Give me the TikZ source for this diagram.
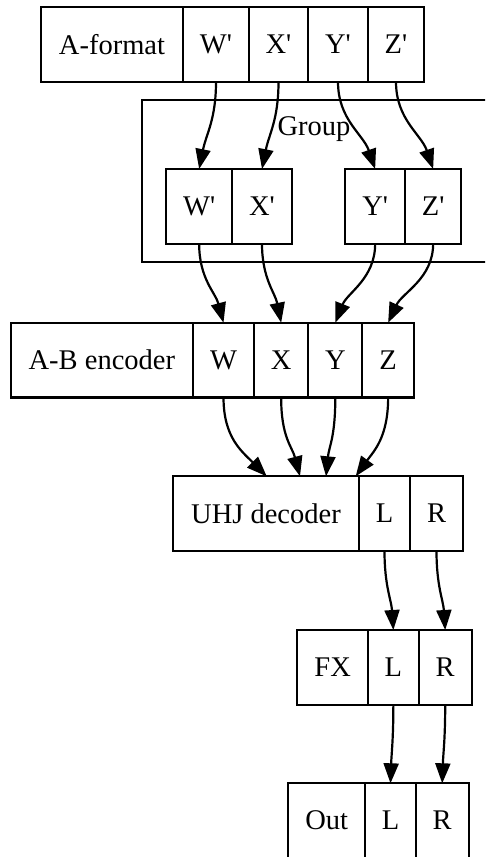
\documentclass[tikz,border=0pt]{standalone}
\usepackage{fontspec}
\setmainfont{Liberation Serif}
\usepackage{tikz}
\usetikzlibrary{arrows.meta}
\usetikzlibrary{positioning}

\tikzset{
  cell/.style={rectangle, draw=black, line width=2.2pt, minimum height=74.7pt, inner sep=0pt, outer sep=0pt, anchor=north west},
  link/.style={-{Triangle[length=20pt,width=15pt]}, line width=2.2pt}
}
\newcommand{\tq}{\textquotesingle}

\begin{document}
\begin{tikzpicture}[x=1pt, y=-1pt, font=\fontsize{28.5}{30}\selectfont]

\useasboundingbox (0,0) rectangle (485,857);
\clip (0,0) rectangle (485,857);

% A-format record
\node at (41,7) [cell, minimum width=142pt] (afmt) {A-format};
\node at (183,7) [cell, minimum width=66pt] (afW) {W\tq};
\node at (249,7) [cell, minimum width=59pt] (afX) {X\tq};
\node at (308,7) [cell, minimum width=60pt] (afY) {Y\tq};
\node at (368,7) [cell, minimum width=56pt] (afZ) {Z\tq};

% group
\node at (142,100) [cell, minimum width=345pt, minimum height=162.3pt] (grp) {};
\node at (314,116) [anchor=north, inner sep=0pt] (grplabel) {Group};
\node at (166,169) [cell, minimum width=66.3pt] (gW) {W\tq};
\node at (232.3,169) [cell, minimum width=59.4pt] (gX) {X\tq};
\node at (345.3,169) [cell, minimum width=59.7pt] (gY) {Y\tq};
\node at (405,169) [cell, minimum width=56.3pt] (gZ) {Z\tq};

% A-B encoder record
\node at (10.7,322.7) [cell, minimum width=182.3pt] (abenc) {A-B encoder};
\node at (193,322.7) [cell, minimum width=61pt] (abW) {W};
\node at (254,322.7) [cell, minimum width=54.3pt] (abX) {X};
\node at (308.3,322.7) [cell, minimum width=54pt] (abY) {Y};
\node at (362.3,322.7) [cell, minimum width=51.7pt] (abZ) {Z};

% UHJ decoder record
\node at (173,476.3) [cell, minimum width=186pt] (uhj) {UHJ decoder};
\node at (359,476.3) [cell, minimum width=51pt] (uhjL) {L};
\node at (410,476.3) [cell, minimum width=53pt] (uhjR) {R};

% FX record
\node at (297.3,630) [cell, minimum width=70.7pt] (fx) {FX};
\node at (368,630) [cell, minimum width=50.7pt] (fxL) {L};
\node at (418.7,630) [cell, minimum width=53pt] (fxR) {R};

% Out record
\node at (288,783.3) [cell, minimum width=77.3pt] (out) {Out};
\node at (365.3,783.3) [cell, minimum width=50.4pt] (outL) {L};
\node at (415.7,783.3) [cell, minimum width=53pt] (outR) {R};

% edges into the group
\draw[link] (afW.south) .. controls +(0,38) and +(7,-35) .. (gW.north);
\draw[link] (afX.south) .. controls +(0,38) and +(7,-35) .. (gX.north);
\draw[link] (afY.south) .. controls +(0,38) and +(-12,-35) .. (gY.north);
\draw[link] (afZ.south) .. controls +(0,38) and +(-12,-35) .. (gZ.north);

% group to encoder
\draw[link] (gW.south) .. controls +(0,35) and +(-8,-30) .. (abW.north);
\draw[link] (gX.south) .. controls +(0,35) and +(-6,-30) .. (abX.north);
\draw[link] (gY.south) .. controls +(0,35) and +(12,-30) .. (abY.north);
\draw[link] (gZ.south) .. controls +(0,35) and +(14,-30) .. (abZ.north);

% encoder to decoder
\draw[link] (abW.south) .. controls +(0,40) and +(-25,-25) .. ([xshift=0.7pt]uhj.north);
\draw[link] (abX.south) .. controls +(0,40) and +(-8,-30) .. ([xshift=34pt]uhj.north);
\draw[link] (abY.south) .. controls +(0,40) and +(3,-30) .. ([xshift=60pt]uhj.north);
\draw[link] (abZ.south) .. controls +(0,40) and +(18,-25) .. ([xshift=89.7pt]uhj.north);

% decoder to FX to Out
\draw[link] (uhjL.south) .. controls +(0,35) and +(-2,-30) .. (fxL.north);
\draw[link] (uhjR.south) .. controls +(0,35) and +(-2,-30) .. (fxR.north);
\draw[link] (fxL.south) .. controls +(0,35) and +(1,-30) .. (outL.north);
\draw[link] (fxR.south) .. controls +(0,35) and +(1,-30) .. (outR.north);

\end{tikzpicture}
\end{document}
